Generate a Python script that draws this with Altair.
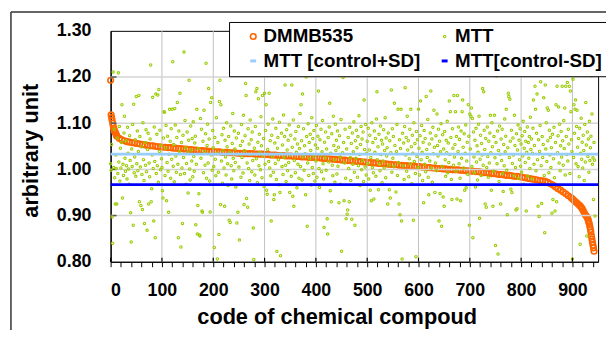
import altair as alt
import pandas as pd

# ---------------- data ----------------
series_names = ["DMMB535", "MTT", "MTT [control+SD]", "MTT[control-SD]"]
series_colors = ["#FF6600", "#99CC00", "#99CCFF", "#0000FF"]
series_shapes = ["circle", "circle", "stroke", "stroke"]
series_sizes = [32, 6, 36, 36]
series_strokes = [1.6, 1.1, 3.0, 3.0]

control_names = ["MTT [control+SD]", "MTT[control-SD]"]
control_levels = [1.033, 0.967]

# DMMB535 (sorted, descending)
dmmb_codes_start = [0, 1, 2, 3, 4, 5, 6, 7, 8, 9, 10, 11]
dmmb_values_start = [1.193, 1.118, 1.112, 1.106, 1.100, 1.094, 1.089, 1.085, 1.082, 1.080, 1.078, 1.075]

# codes 12, 17, 22, ... 897
dmmb_values_mid = [
    1.072, 1.067, 1.064, 1.062, 1.060, 1.059, 1.058, 1.057, 1.056, 1.055,
    1.054, 1.053, 1.052, 1.051, 1.051, 1.050, 1.049, 1.049, 1.048, 1.048,
    1.047, 1.047, 1.046, 1.046, 1.045, 1.045, 1.044, 1.044, 1.043, 1.043,
    1.042, 1.042, 1.041, 1.041, 1.040, 1.040, 1.039, 1.039, 1.038, 1.038,
    1.038, 1.037, 1.037, 1.037, 1.036, 1.036, 1.036, 1.035, 1.035, 1.035,
    1.034, 1.034, 1.034, 1.034, 1.033, 1.033, 1.033, 1.033, 1.032, 1.032,
    1.031, 1.031, 1.031, 1.030, 1.030, 1.030, 1.029, 1.029, 1.029, 1.028,
    1.028, 1.028, 1.027, 1.027, 1.027, 1.026, 1.026, 1.026, 1.025, 1.025,
    1.024, 1.024, 1.023, 1.023, 1.022, 1.022, 1.021, 1.021, 1.020, 1.020,
    1.019, 1.019, 1.018, 1.018, 1.017, 1.017, 1.016, 1.016, 1.015, 1.015,
    1.014, 1.014, 1.013, 1.013, 1.012, 1.012, 1.011, 1.011, 1.010, 1.010,
    1.009, 1.009, 1.008, 1.008, 1.007, 1.007, 1.007, 1.006, 1.006, 1.005,
    1.005, 1.004, 1.004, 1.003, 1.003, 1.002, 1.002, 1.001, 1.001, 1.000,
    1.000, 0.999, 0.999, 0.999, 0.998, 0.998, 0.997, 0.997, 0.996, 0.996,
    0.995, 0.995, 0.994, 0.993, 0.993, 0.992, 0.991, 0.991, 0.990, 0.989,
    0.989, 0.988, 0.987, 0.987, 0.986, 0.985, 0.985, 0.984, 0.983, 0.982,
    0.981, 0.980, 0.979, 0.978, 0.977, 0.976, 0.975, 0.974, 0.972, 0.969,
    0.966, 0.962, 0.958, 0.955, 0.951, 0.947, 0.943, 0.939,
]
dmmb_codes_mid = list(range(12, 898, 5))

dmmb_codes_end = [900, 903, 906, 909, 912, 915, 917, 919, 921, 923, 925, 927, 929,
                  930, 931, 932, 933, 934, 935, 936, 937, 938, 939, 940, 941, 942]
dmmb_values_end = [0.936, 0.933, 0.930, 0.927, 0.924, 0.921, 0.918, 0.915, 0.911, 0.906,
                   0.902, 0.899, 0.896, 0.893, 0.889, 0.885, 0.881, 0.876, 0.870, 0.864,
                   0.856, 0.849, 0.842, 0.836, 0.830, 0.823]

# MTT, one value per compound code 0, 1, 2, ...
mtt_values = [
    1.012, 0.998, 1.054, 0.897, 0.840, 1.211, 1.004, 1.087, 0.982, 0.925,
    1.031, 1.002, 0.925, 1.068, 0.991, 1.209, 1.016, 1.093, 0.975, 1.046,
    1.003, 1.058, 1.140, 0.938, 1.011, 0.987, 1.079, 1.115, 1.024, 0.996,
    1.062, 1.008, 0.979, 1.091, 1.035, 1.001, 0.968, 1.073, 1.019, 0.906,
    0.843, 1.044, 1.006, 1.097, 0.879, 1.141, 0.993, 1.027, 1.064, 0.985,
    1.158, 1.012, 1.083, 0.997, 1.039, 1.160, 0.930, 1.071, 1.005, 0.922,
    1.049, 0.989, 0.913, 1.101, 1.021, 0.976, 0.883, 1.058, 1.009, 1.086,
    0.995, 0.868, 1.043, 1.078, 0.925, 1.014, 0.984, 1.066, 1.226, 0.930,
    0.958, 1.031, 1.156, 1.002, 0.888, 1.092, 1.017, 0.852, 1.163, 0.991,
    1.076, 1.008, 1.161, 0.972, 1.173, 1.039, 1.085, 0.999, 1.052, 1.023,
    1.004, 0.954, 0.938, 1.068, 1.125, 1.124, 0.987, 1.046, 1.095, 0.932,
    1.015, 1.072, 0.996, 0.907, 1.033, 1.130, 1.061, 0.981, 1.088, 1.022,
    1.130, 1.233, 1.007, 1.054, 0.973, 1.132, 1.096, 1.029, 0.994, 1.069,
    1.145, 1.011, 0.852, 1.083, 1.038, 1.165, 0.989, 0.832, 1.058, 1.003,
    0.883, 1.074, 1.026, 1.254, 0.991, 1.106, 1.047, 0.968, 1.013, 1.081,
    1.036, 0.949, 1.063, 1.193, 1.001, 0.977, 1.094, 1.042, 1.018, 1.067,
    0.984, 1.103, 1.028, 0.996, 1.057, 1.072, 0.880, 1.011, 1.130, 0.860,
    0.922, 1.045, 0.947, 0.858, 0.856, 1.110, 1.024, 1.087, 0.910, 0.907,
    1.061, 0.993, 1.128, 1.039, 1.009, 1.077, 1.230, 0.981, 1.052, 1.098,
    1.014, 1.175, 1.066, 0.975, 0.908, 1.145, 1.031, 1.155, 0.998, 1.084,
    1.047, 1.006, 0.831, 1.069, 1.022, 0.986, 1.112, 1.035, 0.806, 1.058,
    0.994, 0.859, 1.147, 1.193, 0.924, 1.140, 1.018, 1.075, 0.970, 1.041,
    1.089, 1.003, 0.920, 1.063, 1.027, 0.988, 1.101, 1.049, 1.012, 0.965,
    1.071, 0.890, 1.037, 0.885, 1.094, 1.008, 0.979, 1.056, 1.121, 1.024,
    0.997, 1.083, 1.044, 1.015, 0.962, 1.068, 0.884, 1.033, 0.907, 1.078,
    1.005, 0.847, 1.205, 1.052, 0.983, 1.097, 1.026, 1.061, 0.992, 1.117,
    0.924, 1.041, 1.073, 1.186, 1.160, 0.937, 1.014, 0.918, 1.088, 1.002,
    1.055, 0.976, 1.107, 1.032, 1.064, 0.995, 1.081, 1.019, 0.873, 0.805,
    1.046, 0.988, 1.093, 1.168, 1.023, 1.175, 0.971, 1.059, 1.153, 1.008,
    1.076, 1.037, 0.999, 1.114, 1.051, 0.982, 1.160, 1.029, 1.067, 0.963,
    1.165, 1.011, 1.084, 1.140, 0.955, 0.946, 1.043, 1.098, 1.017, 1.165,
    1.003, 1.062, 0.986, 0.888, 1.074, 1.028, 1.109, 0.994, 0.935, 0.945,
    1.057, 1.013, 1.089, 0.978, 0.822, 1.046, 1.069, 1.021, 0.967, 1.102,
    0.950, 0.813, 1.034, 1.078, 1.006, 1.053, 0.989, 1.118, 1.025, 1.071,
    1.183, 1.009, 0.974, 1.086, 1.042, 0.997, 1.063, 1.015, 1.096, 0.950,
    1.031, 1.074, 0.985, 1.183, 1.048, 0.942, 1.107, 0.920, 1.019, 1.066,
    0.993, 1.082, 1.037, 0.960, 1.055, 1.011, 1.093, 0.981, 1.045, 1.121,
    1.006, 1.140, 1.062, 0.977, 1.163, 1.027, 1.088, 0.998, 1.051, 1.034,
    0.945, 1.200, 1.071, 0.877, 1.014, 1.099, 0.987, 1.058, 1.023, 1.076,
    1.041, 0.966, 1.112, 1.004, 1.067, 0.991, 1.084, 1.029, 0.975, 1.053,
    1.018, 1.095, 0.983, 1.046, 1.072, 1.170, 1.002, 0.961, 1.064, 1.031,
    1.087, 0.995, 1.038, 1.106, 1.012, 0.979, 0.874, 1.059, 1.025, 1.081,
    0.998, 1.044, 0.893, 0.860, 1.069, 1.016, 1.092, 1.143, 0.954, 1.035,
    0.930, 1.077, 1.009, 0.986, 1.115, 1.052, 1.021, 0.972, 1.098, 1.041,
    1.063, 0.990, 1.083, 1.007, 1.048, 0.928, 1.073, 1.027, 0.968, 1.108,
    0.823, 1.206, 1.036, 1.199, 1.058, 0.932, 1.014, 1.087, 0.981, 0.893,
    1.044, 0.903, 0.912, 1.069, 1.002, 0.930, 1.091, 1.026, 0.976, 1.056,
    0.892, 1.079, 1.011, 1.038, 1.103, 0.994, 0.879, 1.062, 1.024, 1.085,
    1.047, 0.983, 1.071, 1.008, 1.116, 1.032, 0.965, 1.054, 1.093, 0.999,
    1.066, 1.019, 1.081, 0.974, 1.150, 1.043, 1.005, 1.097, 0.988, 1.035,
    1.061, 1.013, 1.089, 0.979, 1.042, 1.074, 0.955, 1.026, 0.932, 1.101,
    1.004, 1.058, 0.993, 0.936, 1.083, 1.037, 1.067, 0.985, 1.109, 1.168,
    1.021, 1.049, 0.956, 1.076, 1.011, 0.997, 1.094, 1.032, 1.063, 0.971,
    1.055, 1.018, 1.086, 1.003, 1.041, 1.112, 0.982, 1.068, 1.029, 1.047,
    0.925, 1.079, 1.009, 0.956, 1.062, 0.938, 1.036, 1.172, 0.994, 1.088,
    1.024, 1.071, 1.006, 1.143, 1.052, 1.205, 0.951, 1.039, 1.097, 0.987,
    1.130, 1.015, 0.925, 1.064, 0.902, 1.045, 1.130, 0.888, 0.806, 1.078,
    1.008, 1.057, 0.978, 1.093, 1.177, 1.031, 1.069, 0.996, 1.115, 1.042,
    1.062, 0.984, 1.023, 1.087, 1.012, 1.130, 1.049, 0.969, 1.074, 1.035,
    0.890, 1.101, 1.017, 1.056, 0.991, 0.811, 1.082, 1.028, 1.064, 1.004,
    1.130, 1.046, 0.988, 1.073, 1.148, 1.021, 1.095, 1.037, 0.976, 1.059,
    0.928, 1.084, 1.011, 1.067, 0.995, 1.158, 1.043, 1.026, 1.108, 0.983,
    0.945, 1.055, 1.018, 1.079, 1.170, 1.003, 1.066, 0.972, 1.091, 1.034,
    1.128, 1.048, 0.950, 1.014, 1.073, 0.997, 1.120, 1.052, 1.029, 1.087,
    0.888, 1.061, 0.948, 1.038, 1.099, 0.877, 1.007, 1.075, 0.940, 1.044,
    0.920, 1.082, 1.021, 0.985, 1.063, 1.036, 1.104, 0.993, 1.057, 1.015,
    1.148, 1.032, 1.125, 1.069, 0.978, 0.935, 1.088, 1.046, 1.009, 1.160,
    1.027, 1.054, 1.125, 0.996, 1.071, 0.936, 1.160, 1.039, 1.092, 1.012,
    1.065, 0.981, 0.932, 1.083, 1.024, 1.125, 1.150, 1.048, 1.003, 1.077,
    0.955, 1.035, 1.096, 0.960, 1.018, 1.059, 0.989, 1.140, 1.072, 0.879,
    1.120, 1.044, 1.115, 1.133, 1.006, 1.110, 0.852, 1.081, 1.027, 0.992,
    1.063, 0.962, 1.089, 1.016, 1.051, 0.977, 1.037, 1.098, 1.115, 0.894,
    1.022, 1.074, 0.987, 1.056, 1.031, 1.175, 1.009, 1.168, 1.085, 1.043,
    0.925, 1.067, 0.918, 1.004, 1.092, 1.028, 0.983, 1.061, 1.014, 1.079,
    1.117, 1.036, 0.955, 1.101, 1.049, 0.920, 0.996, 1.071, 1.117, 1.025,
    0.835, 1.058, 1.202, 1.012, 1.083, 0.817, 1.041, 0.974, 1.094, 1.033,
    0.925, 1.066, 1.019, 1.087, 0.991, 0.952, 1.054, 1.008, 1.109, 1.038,
    1.072, 1.130, 0.998, 0.902, 1.047, 1.165, 1.158, 1.026, 1.152, 1.061,
    0.957, 1.085, 0.950, 1.013, 1.068, 1.031, 0.986, 1.117, 1.052, 1.004,
    0.912, 1.077, 0.915, 1.042, 1.096, 0.981, 1.063, 1.021, 1.088, 1.007,
    1.055, 0.994, 1.073, 1.029, 1.104, 0.968, 1.046, 1.082, 1.015, 1.061,
    0.910, 1.037, 1.092, 0.985, 1.058, 1.024, 1.071, 1.002, 1.113, 1.043,
    1.066, 0.979, 1.035, 1.089, 1.150, 1.011, 1.052, 1.180, 1.130, 0.997,
    1.078, 1.163, 1.021, 0.920, 1.064, 0.898, 1.039, 1.095, 1.190, 1.008,
    0.926, 1.071, 1.026, 1.054, 1.155, 0.987, 0.863, 1.183, 1.044, 1.101,
    1.017, 1.133, 1.062, 1.128, 0.993, 1.085, 1.031, 1.069, 1.004, 1.047,
    0.905, 1.076, 0.935, 1.023, 1.091, 0.982, 0.910, 1.058, 1.140, 0.930,
    1.180, 1.036, 1.073, 1.135, 1.014, 1.098, 0.997, 1.051, 1.082, 1.027,
    1.180, 1.062, 1.009, 1.106, 1.045, 1.133, 0.988, 1.180, 1.071, 1.032,
    1.188, 1.018, 1.087, 1.055, 1.180, 0.991, 1.170, 1.125, 1.064, 1.039,
    0.806, 1.195, 1.026, 1.140, 1.078, 1.130, 1.150, 1.012, 1.093, 1.128,
    1.048, 1.006, 1.067, 0.984, 1.089, 0.838, 1.035, 1.111, 1.022, 1.059,
    1.003, 1.074, 1.041, 0.976, 1.097, 1.016, 1.145, 1.053, 0.856, 1.081,
    1.028, 1.066, 0.994, 1.104, 1.019, 1.047, 1.072, 1.203, 1.120, 1.011,
    1.025, 0.935, 1.058, 1.020, 0.899,
]

x_ticks = list(range(0, 950, 20))
x_major = [0, 100, 200, 300, 400, 500, 600, 700, 800, 900]
x_grid = [100, 200, 300, 400, 500, 600, 700, 800, 900]
y_ticks = [0.8, 0.9, 1.0, 1.1, 1.2, 1.3]
y_grid = [0.9, 1.0, 1.1, 1.2]

# ---------------- tables ----------------
dmmb_df = pd.DataFrame({
    "code": dmmb_codes_start + dmmb_codes_mid + dmmb_codes_end,
    "value": dmmb_values_start + dmmb_values_mid + dmmb_values_end,
})
dmmb_df["series"] = "DMMB535"

mtt_df = pd.DataFrame({"code": list(range(len(mtt_values))), "value": mtt_values})
mtt_df["series"] = "MTT"

ctrl_df = pd.DataFrame({"series": control_names, "value": control_levels})
xgrid_df = pd.DataFrame({"code": x_grid})
xmajor_df = pd.DataFrame({"code": x_major})
ygrid_df = pd.DataFrame({"value": y_grid})

FONT = "Liberation Sans"

x_scale = alt.Scale(domain=[0, 950], nice=False, zero=False)
y_scale = alt.Scale(domain=[0.8, 1.3], nice=False, zero=False)

legend = alt.Legend(
    title=None,
    orient="none",
    direction="horizontal",
    legendX=120,
    legendY=-9,
    columns=2,
    columnPadding=5,
    rowPadding=5,
    padding=5,
    symbolOffset=10,
    fillColor="white",
    strokeColor="black",
    labelFont=FONT,
    labelFontSize=19,
    labelFontWeight="bold",
    labelColor="black",
    labelLimit=400,
    labelOffset=1,
    symbolFillColor="transparent",
)

color = alt.Color("series:N", scale=alt.Scale(domain=series_names, range=series_colors), legend=legend)
shape = alt.Shape("series:N", scale=alt.Scale(domain=series_names, range=series_shapes), legend=legend)
size = alt.Size("series:N", scale=alt.Scale(type="ordinal", domain=series_names, range=series_sizes), legend=legend)
stroke_w = alt.StrokeWidth("series:N", scale=alt.Scale(type="ordinal", domain=series_names, range=series_strokes), legend=legend)

x_enc = alt.X(
    "code:Q",
    scale=x_scale,
    axis=alt.Axis(
        title="code of chemical compoud",
        values=x_ticks,
        labelExpr="datum.value % 100 === 0 ? datum.label : ''",
        labelOverlap=False,
        grid=False,
        tickSize=5,
        tickColor="black",
        domainColor="black",
        labelPadding=15,
        titleX=229,
        titleY=63,
        titleAlign="center",
        titleBaseline="alphabetic",
    ),
)
y_enc = alt.Y(
    "value:Q",
    scale=y_scale,
    axis=alt.Axis(
        title="arbitrary unit",
        values=y_ticks,
        format=".2f",
        grid=False,
        ticks=False,
        domainColor="black",
        labelPadding=20,
        titleAngle=270,
        titleX=-81,
        titleY=121,
        titleAlign="center",
        titleBaseline="middle",
    ),
)

# outer chart-area frame (top and left edges), positioned in pixels outside the plot
frame_df = pd.DataFrame({"frame": [0]})
frame_top = alt.Chart(frame_df).mark_rule(color="#333333", strokeWidth=1.5).encode(
    x=alt.value({"expr": "-101"}), x2=alt.value({"expr": "800"}), y=alt.value({"expr": "-19"})
)
frame_left = alt.Chart(frame_df).mark_rule(color="#333333", strokeWidth=1.5).encode(
    x=alt.value({"expr": "-101"}), y=alt.value({"expr": "-19"}), y2=alt.value({"expr": "500"})
)

xgrid_layer = alt.Chart(xgrid_df).mark_rule(color="#c0c0c0", strokeWidth=1).encode(x=x_enc)
ygrid_layer = alt.Chart(ygrid_df).mark_rule(color="#d4d4d4", strokeWidth=1.5).encode(y=y_enc)
ytick_layer = alt.Chart(ygrid_df).mark_rule(color="#555555", strokeWidth=1.5).encode(
    y=y_enc, x=alt.value(0), x2=alt.value(6)
)
xmajor_layer = alt.Chart(xmajor_df).mark_rule(color="black", strokeWidth=1.2).encode(
    x=x_enc, y=alt.value(230), y2=alt.value(234)
)

dmmb_layer = alt.Chart(dmmb_df).mark_point(filled=False, opacity=1).encode(
    x=x_enc, y=y_enc, color=color, shape=shape, size=size, strokeWidth=stroke_w
)

mtt_layer = alt.Chart(mtt_df).mark_point(filled=False, opacity=1).encode(
    x=x_enc, y=y_enc, color=color, shape=shape, size=size, strokeWidth=stroke_w
)

ctrl_layer = alt.Chart(ctrl_df).mark_rule(strokeWidth=2.8).encode(y=y_enc, color=color)

chart = alt.layer(
    dmmb_layer, frame_top, frame_left, xgrid_layer, ygrid_layer, ytick_layer, mtt_layer, ctrl_layer, xmajor_layer
).properties(
    width=494,
    height=234,
    autosize=alt.AutoSizeParams(type="none"),
    padding={"left": 104, "top": 21, "right": 8, "bottom": 67},
).configure_view(
    stroke="black", strokeWidth=1
).configure_axis(
    labelFont=FONT,
    labelFontSize=18,
    labelFontWeight="bold",
    labelColor="black",
    titleFont=FONT,
    titleFontSize=22,
    titleFontWeight="bold",
    titleColor="black",
    domainWidth=1.2,
)

chart.save("out.html", embed_options={"renderer": "svg", "actions": False})
